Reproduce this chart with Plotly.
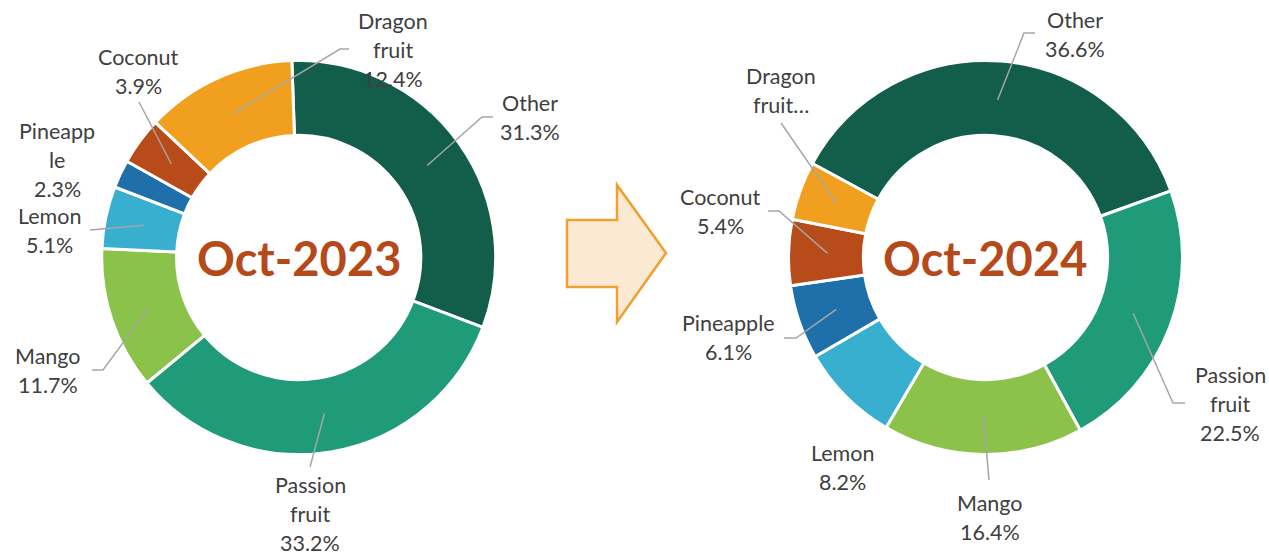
import math
import plotly.graph_objects as go

# ---------------- data ----------------
fruits = ["Other", "Passion fruit", "Mango", "Lemon", "Pineapple", "Coconut", "Dragon fruit"]
share_2023 = [31.3, 33.2, 11.7, 5.1, 2.3, 3.9, 12.4]
share_2024 = [36.6, 22.5, 16.4, 8.2, 6.1, 5.4, 4.8]
title_2023 = "Oct-2023"
title_2024 = "Oct-2024"
# label text lines as they wrap in the picture
label_lines_2023 = [["Other"], ["Passion", "fruit"], ["Mango"], ["Lemon"],
                    ["Pineapp", "le"], ["Coconut"], ["Dragon", "fruit"]]
label_lines_2024 = [["Other"], ["Passion", "fruit"], ["Mango"], ["Lemon"],
                    ["Pineapple"], ["Coconut"], ["Dragon", "fruit\u2026"]]
show_pct_2024 = [True, True, True, True, True, True, False]
show_pct_2023 = [True] * 7

colors = ["#125E4A", "#1F9B79", "#8BC24A", "#38AFCF", "#1F6FAB", "#B84B1A", "#F0A01E"]

# ---------------- layout constants (pixels) ----------------
W, H = 1269, 556
R = 197          # outer radius px
HOLE = 0.62
TIP_R = 158      # radius where leader lines end
LINE_H = 29      # label line spacing
charts = [
    dict(cx=298.7, cy=257.5, rot=-2, values=share_2023, lines=label_lines_2023,
         pct=show_pct_2023, title=title_2023,
         pos=[(530, 103, [(482, 117), (493, 117)]),
              (310, 485, [(310, 467)]),
              (48, 356, [(103, 370), (92, 370)]),
              (49, 216, [(90, 230)]),
              (57, 131, []),
              (138, 57, [(139, 102)]),
              (393, 21, [(340, 49), (349, 49)])]),
    dict(cx=985.5, cy=257.5, rot=-61.5, values=share_2024, lines=label_lines_2024,
         pct=show_pct_2024, title=title_2024,
         pos=[(1075, 20, [(1024, 33), (1035, 33)]),
              (1230, 375, [(1173, 403), (1185, 403)]),
              (990, 503, [(989, 480)]),
              (842, 453, []),
              (728, 323, [(796, 338), (784, 338)]),
              (720, 197, [(779, 211), (768, 211)]),
              (781, 76, [(781, 123)])]),
]


def px(x):
    return x / W


def py(y):
    return 1 - y / H


FONT = "Lato, 'Open Sans', sans-serif"
fig = go.Figure()
annotations = []
shapes = []

for ch in charts:
    cx, cy = ch["cx"], ch["cy"]
    fig.add_trace(go.Pie(
        labels=fruits, values=ch["values"], sort=False, direction="clockwise",
        rotation=ch["rot"], hole=HOLE,
        marker=dict(colors=colors, line=dict(color="white", width=3)),
        textinfo="none", hoverinfo="label+percent", showlegend=False,
        domain=dict(x=[px(cx - R), px(cx + R)], y=[py(cy + R), py(cy - R)]),
    ))
    total = sum(ch["values"])
    cum = 0
    for i, v in enumerate(ch["values"]):
        mid = math.radians(ch["rot"] + 360 * (cum + v / 2) / total)
        cum += v
        tx = cx + TIP_R * math.sin(mid)
        ty = cy - TIP_R * math.cos(mid)
        lx, ly0, elbows = ch["pos"][i]
        if elbows:
            pts = [(tx, ty)] + elbows
            path = "M " + " L ".join(f"{px(a):.5f},{py(b):.5f}" for a, b in pts)
            shapes.append(dict(type="path", xref="paper", yref="paper", path=path,
                               line=dict(color="#A6A6A6", width=1.5)))
        lines = list(ch["lines"][i])
        if ch["pct"][i]:
            lines.append(f"{v:.1f}%")
        for k, t in enumerate(lines):
            annotations.append(dict(
                text=t, x=px(lx), y=py(ly0 + k * LINE_H), xref="paper", yref="paper",
                showarrow=False, xanchor="center", yanchor="middle",
                font=dict(family=FONT, size=21.5, color="#404040")))
    annotations.append(dict(
        text=f"<b>{ch['title']}</b>", x=px(cx), y=py(cy), xref="paper", yref="paper",
        showarrow=False, xanchor="center", yanchor="middle",
        font=dict(family=FONT, size=47, color="#B5491A")))

# block arrow between the two donuts
arrow_pts = [(567, 220), (617, 220), (617, 185), (666, 253), (617, 322), (617, 287), (567, 287)]
shapes.append(dict(type="path", xref="paper", yref="paper",
                   path="M " + " L ".join(f"{px(a):.5f},{py(b):.5f}" for a, b in arrow_pts) + " Z",
                   fillcolor="#FCE9D4", line=dict(color="#F0A030", width=2.5)))

fig.update_layout(
    width=W, height=H, margin=dict(l=0, r=0, t=0, b=0),
    paper_bgcolor="white", plot_bgcolor="white",
    annotations=annotations, shapes=shapes,
)
fig.write_html("out.html", config={"displayModeBar": False},
               post_script="document.body.style.margin='0';document.body.style.overflow='hidden';")
